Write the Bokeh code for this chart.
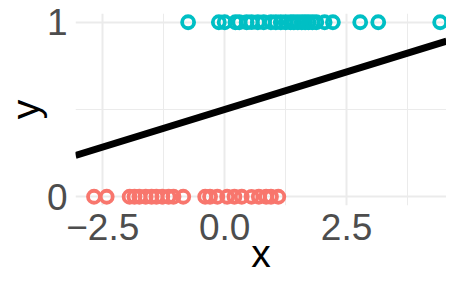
from bokeh.plotting import figure
from bokeh.models import Range1d, FixedTicker, ColumnDataSource
from bokeh.embed import file_html
from bokeh.resources import INLINE

# Observations with y = 0 (salmon) and y = 1 (teal)
x_zero = [-2.68, -2.42, -1.95, -1.85, -1.75, -1.62, -1.50, -1.40, -1.28, -1.15,
          -1.05, -0.85, -0.40, -0.30, -0.15, 0.05, 0.20, 0.35, 0.55, 0.70,
          0.85, 0.95, 1.10]
x_one = [-0.75, -0.12, 0.00, 0.22, 0.30, 0.45, 0.55, 0.68, 0.80, 0.95,
         1.05, 1.15, 1.25, 1.35, 1.42, 1.50, 1.58, 1.65, 1.72, 1.80,
         1.88, 2.05, 2.22, 2.78, 3.15, 4.42]

# Fitted linear line
intercept = 0.5
slope = 0.086

x_ticks = [-2.5, 0.0, 2.5]
x_tick_labels = ["\u22122.5", "0.0", "2.5"]
x_minor = [-1.25, 1.25, 3.75]
y_ticks = [0, 1]
y_tick_labels = ["0", "1"]
y_minor = [0.5]
x_title = "x"
y_title = "y"

x_lo, x_hi = -3.06, 4.55
y_lo, y_hi = -0.05, 1.05

p = figure(width=446, height=277, output_backend="svg", toolbar_location=None,
           x_range=Range1d(x_lo, x_hi), y_range=Range1d(y_lo, y_hi),
           min_border_left=0, min_border_right=0, min_border_top=13,
           min_border_bottom=71)
p.outline_line_color = None
p.background_fill_color = "white"
p.border_fill_color = "white"

for ax in (p.xaxis[0], p.yaxis[0]):
    ax.axis_line_color = None
    ax.major_tick_line_color = None
    ax.minor_tick_line_color = None
    ax.major_tick_out = 0
    ax.minor_tick_out = 0
    ax.major_label_text_font = "Liberation Sans"
    ax.major_label_text_font_size = "37px"
    ax.major_label_text_color = "#4D4D4D"
    ax.axis_label_text_font = "Liberation Sans"
    ax.axis_label_text_font_size = "39px"
    ax.axis_label_text_font_style = "normal"
    ax.axis_label_text_color = "black"

p.xaxis.ticker = FixedTicker(ticks=x_ticks, minor_ticks=x_minor)
p.yaxis.ticker = FixedTicker(ticks=y_ticks, minor_ticks=y_minor)
p.xaxis.major_label_overrides = {t: l for t, l in zip(x_ticks, x_tick_labels)}
p.yaxis.major_label_overrides = {t: l for t, l in zip(y_ticks, y_tick_labels)}
p.xaxis.axis_label = x_title
p.yaxis.axis_label = y_title
p.xaxis.major_label_standoff = 8
p.xaxis.axis_label_standoff = -11
p.yaxis.major_label_standoff = 8
p.yaxis.axis_label_standoff = -3

for g in (p.xgrid[0], p.ygrid[0]):
    g.grid_line_color = "#EBEBEB"
    g.grid_line_width = 2
    g.minor_grid_line_color = "#EBEBEB"
    g.minor_grid_line_width = 1

src0 = ColumnDataSource(dict(x=x_zero, y=[0] * len(x_zero)))
src1 = ColumnDataSource(dict(x=x_one, y=[1] * len(x_one)))
p.scatter("x", "y", source=src0, size=12, fill_color=None,
          line_color="#F8766D", line_width=3.8)
p.scatter("x", "y", source=src1, size=12, fill_color=None,
          line_color="#00BFC4", line_width=3.8)

lx = [x_lo, x_hi]
ly = [intercept + slope * v for v in lx]
p.line(lx, ly, line_color="black", line_width=7)

open("out.html", "w").write(file_html(p, INLINE))
